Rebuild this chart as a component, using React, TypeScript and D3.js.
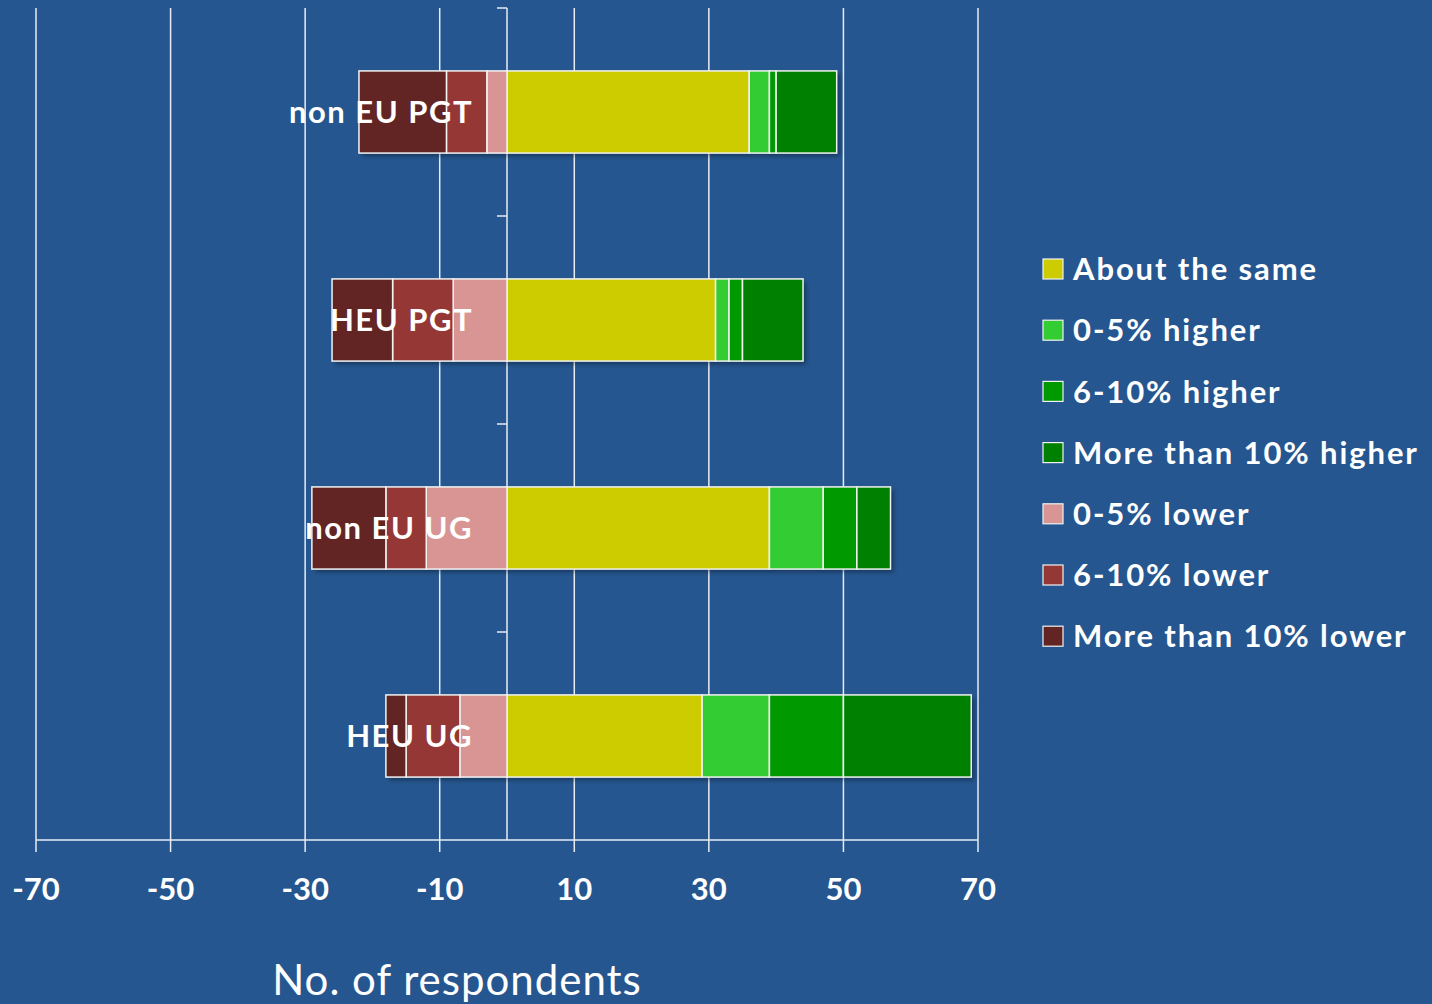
import * as d3 from 'd3';
import { useEffect, useRef } from 'react';

const categories = ['non EU PGT', 'HEU PGT', 'non EU UG', 'HEU UG'];

// positive side, from zero outwards
const aboutSame = [36, 31, 39, 29];
const higher0to5 = [3, 2, 8, 10];
const higher6to10 = [1, 2, 5, 11];
const higherOver10 = [9, 9, 5, 19];
// negative side, from zero outwards
const lower0to5 = [3, 8, 12, 7];
const lower6to10 = [6, 9, 6, 8];
const lowerOver10 = [13, 9, 11, 3];

const xTicks = [-70, -50, -30, -10, 10, 30, 50, 70];

const legendItems = [
  { name: 'About the same', color: '#cccc00' },
  { name: '0-5% higher', color: '#33cc33' },
  { name: '6-10% higher', color: '#009900' },
  { name: 'More than 10% higher', color: '#008000' },
  { name: '0-5% lower', color: '#d99594' },
  { name: '6-10% lower', color: '#953735' },
  { name: 'More than 10% lower', color: '#632523' },
];

const positiveSeries = [
  { values: aboutSame, color: '#cccc00' },
  { values: higher0to5, color: '#33cc33' },
  { values: higher6to10, color: '#009900' },
  { values: higherOver10, color: '#008000' },
];
const negativeSeries = [
  { values: lower0to5, color: '#d99594' },
  { values: lower6to10, color: '#953735' },
  { values: lowerOver10, color: '#632523' },
];

const App = () => {
  const svgRef = useRef<any>();
  const width = 1432;
  const height = 1004;
  const left = 36;
  const right = 978;
  const top = 8;
  const bottom = 840;
  const font = 'Lato, "Open Sans", sans-serif';

  useEffect(() => {
    const svg = d3.select(svgRef.current);
    svg.selectAll('*').remove();

    svg.append('rect').attr('width', width).attr('height', height).attr('fill', '#25568f');

    const defs = svg.append('defs');
    const filter = defs.append('filter').attr('id', 'shadow').attr('x', '-5%').attr('y', '-10%').attr('width', '115%').attr('height', '130%');
    filter
      .append('feDropShadow')
      .attr('dx', 3)
      .attr('dy', 3)
      .attr('stdDeviation', 2)
      .attr('flood-color', '#000')
      .attr('flood-opacity', 0.35);

    const x = d3.scaleLinear().domain([-70, 70]).range([left, right]);
    const y = d3
      .scaleBand()
      .domain(categories)
      .range([top, bottom])
      .paddingInner(0.605)
      .paddingOuter(0.3025);

    // vertical gridlines
    svg
      .append('g')
      .selectAll('line')
      .data(xTicks)
      .enter()
      .append('line')
      .attr('x1', (d) => x(d))
      .attr('x2', (d) => x(d))
      .attr('y1', top)
      .attr('y2', bottom)
      .attr('stroke', '#e8edf4')
      .attr('stroke-width', 1.5);

    // x axis
    const xAxis = svg.append('g');
    xAxis
      .append('line')
      .attr('x1', left)
      .attr('x2', right)
      .attr('y1', bottom)
      .attr('y2', bottom)
      .attr('stroke', '#e8edf4')
      .attr('stroke-width', 1.5);
    xAxis
      .selectAll('line.tick')
      .data(xTicks)
      .enter()
      .append('line')
      .attr('class', 'tick')
      .attr('x1', (d) => x(d))
      .attr('x2', (d) => x(d))
      .attr('y1', bottom)
      .attr('y2', bottom + 12)
      .attr('stroke', '#e8edf4')
      .attr('stroke-width', 1.5);
    xAxis
      .selectAll('text')
      .data(xTicks)
      .enter()
      .append('text')
      .attr('x', (d) => x(d))
      .attr('y', 900)
      .attr('text-anchor', 'middle')
      .attr('fill', '#fff')
      .attr('font-family', font)
      .attr('font-weight', 'bold')
      .attr('font-size', 31)
      .text((d) => `${d}`);

    // y axis at zero
    const x0 = x(0);
    const yAxis = svg.append('g');
    yAxis
      .append('line')
      .attr('x1', x0)
      .attr('x2', x0)
      .attr('y1', top)
      .attr('y2', bottom)
      .attr('stroke', '#e8edf4')
      .attr('stroke-width', 1.5);
    const bandEdges = [top, ...categories.map((c) => (y(c) as number) + y.bandwidth() / 2 + y.step() / 2)];
    yAxis
      .selectAll('line.tick')
      .data(bandEdges.slice(0, -1))
      .enter()
      .append('line')
      .attr('class', 'tick')
      .attr('x1', x0 - 10)
      .attr('x2', x0)
      .attr('y1', (d) => d)
      .attr('y2', (d) => d)
      .attr('stroke', '#e8edf4')
      .attr('stroke-width', 1.5);

    // bars
    const bars = svg.append('g');
    categories.forEach((cat, i) => {
      const by = y(cat) as number;
      const h = y.bandwidth();
      const segs: { x0: number; x1: number; color: string }[] = [];
      let acc = 0;
      positiveSeries.forEach((s) => {
        segs.push({ x0: acc, x1: acc + s.values[i], color: s.color });
        acc += s.values[i];
      });
      acc = 0;
      negativeSeries.forEach((s) => {
        segs.push({ x0: acc - s.values[i], x1: acc, color: s.color });
        acc -= s.values[i];
      });
      const lo = d3.min(segs, (d) => d.x0) as number;
      const hi = d3.max(segs, (d) => d.x1) as number;
      bars
        .append('rect')
        .attr('x', x(lo))
        .attr('y', by)
        .attr('width', x(hi) - x(lo))
        .attr('height', h)
        .attr('fill', '#25568f')
        .attr('filter', 'url(#shadow)');
      bars
        .append('g')
        .selectAll('rect')
        .data(segs)
        .enter()
        .append('rect')
        .attr('x', (d) => x(d.x0))
        .attr('y', by)
        .attr('width', (d) => x(d.x1) - x(d.x0))
        .attr('height', h)
        .attr('fill', (d) => d.color)
        .attr('stroke', '#f2f2f2')
        .attr('stroke-width', 1.5);
    });

    // category labels
    svg
      .append('g')
      .selectAll('text')
      .data(categories)
      .enter()
      .append('text')
      .attr('x', 473)
      .attr('y', (d) => (y(d) as number) + y.bandwidth() / 2)
      .attr('dy', '0.36em')
      .attr('text-anchor', 'end')
      .attr('fill', '#fff')
      .attr('font-family', font)
      .attr('font-weight', 'bold')
      .attr('font-size', 31)
      .attr('letter-spacing', 1.5)
      .text((d) => d);

    // legend
    const legend = svg.append('g');
    const rows = legend
      .selectAll('g')
      .data(legendItems)
      .enter()
      .append('g')
      .attr('transform', (_, i) => `translate(1043, ${269 + i * 61.2})`);
    rows
      .append('rect')
      .attr('x', 0)
      .attr('y', -10)
      .attr('width', 20)
      .attr('height', 20)
      .attr('fill', (d) => d.color)
      .attr('stroke', '#f2f2f2')
      .attr('stroke-width', 1.2);
    rows
      .append('text')
      .attr('x', 30)
      .attr('dy', '0.36em')
      .attr('fill', '#fff')
      .attr('font-family', font)
      .attr('font-weight', 'bold')
      .attr('font-size', 31)
      .attr('letter-spacing', 1.9)
      .text((d) => d.name);

    // axis title
    svg
      .append('text')
      .attr('x', 457)
      .attr('y', 995)
      .attr('text-anchor', 'middle')
      .attr('fill', '#fff')
      .attr('font-family', font)
      .attr('font-size', 42)
      .attr('letter-spacing', 1)
      .text('No. of respondents');
  }, []);

  return (
    <svg
      ref={svgRef}
      width={width}
      height={height}
      style={{ position: 'absolute', left: 0, top: 0, display: 'block' }}
    />
  );
};

export default App;
